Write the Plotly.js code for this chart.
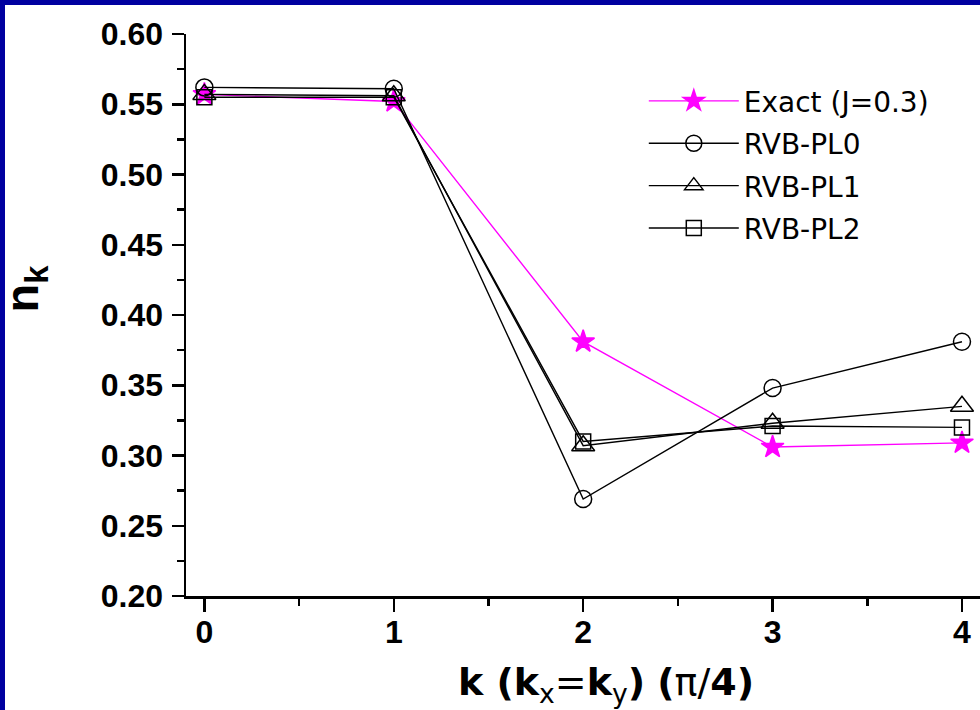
<!DOCTYPE html>
<html>
<head>
<meta charset="utf-8">
<script src="https://cdn.plot.ly/plotly-3.0.1.min.js"></script>
<style>
  html, body { margin: 0; padding: 0; width: 980px; height: 710px; overflow: hidden; background: #0000a0; }
  #chart { position: absolute; left: -5px; top: 5px; width: 1040px; height: 705px; background: #fff; }
  #edge { position: absolute; left: 0; top: 0; width: 5px; height: 710px; background: #0000a0; z-index: 10; }
</style>
</head>
<body>
<div id="chart"></div>
<div id="edge"></div>
<script>
const k = [0, 1, 2, 3, 4];
const exactJ03 = [0.557, 0.552, 0.381, 0.306, 0.309];
const rvbPL0 = [0.562, 0.561, 0.269, 0.348, 0.381];
const rvbPL1 = [0.557, 0.556, 0.307, 0.323, 0.335];
const rvbPL2 = [0.555, 0.555, 0.310, 0.321, 0.320];
const seriesNames = ['Exact (J=0.3)', 'RVB-PL0', 'RVB-PL1', 'RVB-PL2'];
const xTickVals = [0, 1, 2, 3, 4];
const xTickText = ['0', '1', '2', '3', '4'];
const yTickVals = [0.20, 0.25, 0.30, 0.35, 0.40, 0.45, 0.50, 0.55, 0.60];
const yTickText = ['0.20', '0.25', '0.30', '0.35', '0.40', '0.45', '0.50', '0.55', '0.60'];

function tr(name, y, color, symbol, size, group) {
  return {
    x: k, y: y, name: name, type: 'scatter', mode: 'lines+markers',
    legendgroup: group,
    line: { color: color, width: 1.4 },
    marker: { symbol: symbol, size: size, color: color, line: { color: color, width: 1.5 } },
    cliponaxis: false
  };
}

const data = [
  tr(seriesNames[0], exactJ03, '#ff00ff', 'star', 17, 'g0'),
  tr(seriesNames[1], rvbPL0, '#000000', 'circle-open', 17, 'g1'),
  tr(seriesNames[2], rvbPL1, '#000000', 'triangle-up-open', 20, 'g2'),
  tr(seriesNames[3], rvbPL2, '#000000', 'square-open', 15, 'g3')
];

const tickFont = { family: 'Liberation Sans, Arial, sans-serif', size: 32, color: '#000', weight: 'bold' };

const layout = {
  width: 1040, height: 705,
  paper_bgcolor: '#ffffff', plot_bgcolor: '#ffffff',
  margin: { l: 191, r: 9, t: 29, b: 114 },
  showlegend: true,
  legend: {
    x: 0.545, y: 0.925, xanchor: 'left', yanchor: 'top',
    bgcolor: 'rgba(0,0,0,0)', borderwidth: 0,
    font: { family: 'DejaVu Sans, Verdana, sans-serif', size: 28, color: '#000' },
    itemwidth: 90, tracegroupgap: 3, traceorder: 'grouped'
  },
  xaxis: {
    range: [-0.097, 4.338],
    tickmode: 'array', tickvals: xTickVals, ticktext: xTickText,
    ticks: 'outside', ticklen: 13, tickwidth: 2.5, tickcolor: '#000',
    minor: { dtick: 0.5, tick0: 0, ticks: 'outside', ticklen: 7, tickwidth: 2.5, tickcolor: '#000', showgrid: false },
    showline: true, linecolor: '#000', linewidth: 2.5, mirror: false,
    showgrid: false, zeroline: false,
    tickfont: tickFont, ticklabelstandoff: -7,
    automargin: true,
    title: {
      text: '<b>k (k</b><sub>x</sub>=<b>k</b><sub>y</sub><b>)</b> <b>(</b>π/<b>4)</b>',
      font: { family: 'DejaVu Sans, Verdana, sans-serif', size: 38, color: '#000' },
      standoff: 20
    }
  },
  yaxis: {
    range: [0.2, 0.6],
    tickmode: 'array', tickvals: yTickVals, ticktext: yTickText,
    ticks: 'outside', ticklen: 12, tickwidth: 2.5, tickcolor: '#000',
    minor: { dtick: 0.025, tick0: 0.2, ticks: 'outside', ticklen: 7, tickwidth: 2.5, tickcolor: '#000', showgrid: false },
    showline: true, linecolor: '#000', linewidth: 2.5, mirror: false,
    showgrid: false, zeroline: false,
    tickfont: tickFont, ticklabelstandoff: 2,
    automargin: false,
    title: {
      text: '&nbsp;&nbsp;&nbsp;&nbsp;n<sub>k</sub>',
      font: { family: 'Liberation Sans, Arial, sans-serif', size: 47, color: '#000', weight: 'bold' },
      standoff: 51
    }
  }
};

Plotly.newPlot('chart', data, layout, { displayModeBar: false, staticPlot: true });
</script>
</body>
</html>
